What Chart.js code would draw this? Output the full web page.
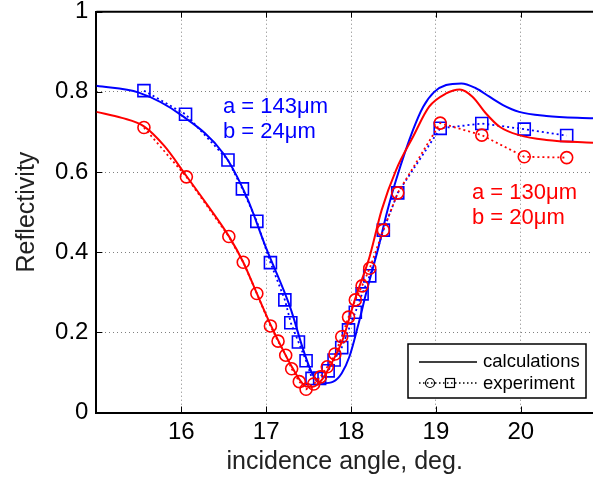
<!DOCTYPE html>
<html>
<head>
<meta charset="utf-8">
<script src="https://cdn.jsdelivr.net/npm/chart.js@4.4.1/dist/chart.umd.min.js"></script>
<style>
  body{margin:0;background:#fff;}
  #wrap{width:593px;height:477px;position:relative;}
</style>
</head>
<body>
<div id="wrap"><canvas id="myChart"></canvas></div>
<script>
// measured values (incidence angle in deg, reflectivity)
var blueExpX=[15.56,16.05,16.55,16.72,16.89,17.05,17.22,17.29,17.38,17.47,17.54,17.63,17.73,17.80,17.89,17.97,18.05,18.13,18.22,18.38,18.55,19.05,19.54,20.04,20.54];
var blueExpY=[0.803,0.744,0.630,0.558,0.477,0.374,0.281,0.224,0.176,0.129,0.085,0.085,0.104,0.131,0.162,0.206,0.250,0.296,0.341,0.455,0.548,0.709,0.721,0.707,0.691];
var redExpX=[15.56,16.06,16.56,16.73,16.89,17.05,17.14,17.23,17.30,17.39,17.47,17.56,17.64,17.72,17.81,17.89,17.97,18.05,18.13,18.22,18.38,18.55,19.05,19.54,20.04,20.54];
var redExpY=[0.711,0.588,0.439,0.375,0.297,0.216,0.178,0.143,0.109,0.077,0.058,0.071,0.089,0.114,0.146,0.189,0.238,0.281,0.316,0.360,0.455,0.548,0.722,0.692,0.638,0.636];

// calculated curves
var blueCalcX=[15.0,15.5,16.0,16.5,16.77,17.0,17.28,17.45,17.55,17.67,17.79,17.89,17.98,18.08,18.18,18.32,18.43,18.53,18.73,18.85,18.98,19.12,19.30,19.47,19.63,19.79,19.98,20.30,20.85];
var blueCalcY=[0.815,0.798,0.742,0.645,0.538,0.41,0.264,0.148,0.094,0.073,0.077,0.098,0.139,0.215,0.30,0.41,0.505,0.58,0.705,0.763,0.800,0.817,0.821,0.809,0.788,0.767,0.750,0.740,0.734];
var redCalcX=[15.0,15.3,15.56,15.8,16.06,16.3,16.56,16.73,16.89,17.05,17.2,17.3,17.4,17.47,17.55,17.65,17.75,17.9,18.05,18.22,18.36,18.53,18.73,18.92,19.12,19.28,19.43,19.59,19.75,19.98,20.30,20.85];
var redCalcY=[0.750,0.735,0.714,0.665,0.590,0.52,0.44,0.375,0.297,0.22,0.155,0.115,0.08,0.065,0.064,0.08,0.115,0.181,0.285,0.39,0.505,0.605,0.688,0.763,0.796,0.806,0.788,0.746,0.713,0.692,0.680,0.673];

var xTicks=[16,17,18,19,20];
var legendNames=['calculations','experiment'];
var notes=[
  {lines:['a = 143μm','b = 24μm'],color:'#0000ff',x:223,y:107},
  {lines:['a = 130μm','b = 20μm'],color:'#ff0000',x:472,y:193}
];

function pts(xs,ys){
  return xs.map(function(x,i){return {x:x,y:ys[i]};});
}

// frame top line + inward ticks + legend box + text notes
var decor={
  id:'decor',
  afterDatasetsDraw:function(chart){
    var c=chart.ctx, a=chart.chartArea, xs=chart.scales.x, ys=chart.scales.y;
    c.save();
    c.strokeStyle='#000';
    c.lineWidth=2;
    c.beginPath();c.moveTo(a.left,a.top);c.lineTo(a.right,a.top);c.stroke();
    c.lineWidth=1;
    xTicks.forEach(function(v){
      var px=Math.round(xs.getPixelForValue(v))+0.5;
      c.beginPath();c.moveTo(px,a.bottom);c.lineTo(px,a.bottom-6);c.stroke();
      c.beginPath();c.moveTo(px,a.top);c.lineTo(px,a.top+6);c.stroke();
    });
    ys.ticks.forEach(function(t){
      var py=Math.round(ys.getPixelForValue(t.value))+0.5;
      c.beginPath();c.moveTo(a.left,py);c.lineTo(a.left+6,py);c.stroke();
    });

    // notes
    c.font='22px "Liberation Sans", Arial, sans-serif';
    c.textBaseline='middle';
    c.textAlign='left';
    notes.forEach(function(n){
      c.fillStyle=n.color;
      n.lines.forEach(function(s,i){c.fillText(s,n.x,n.y+i*25);});
    });

    // legend
    var bx=408,by=344,bw=178,bh=54;
    c.fillStyle='#fff';
    c.fillRect(bx,by,bw,bh);
    c.lineWidth=1.5;
    c.strokeStyle='#000';
    c.strokeRect(bx,by,bw,bh);
    c.beginPath();c.moveTo(419,362);c.lineTo(477,362);c.stroke();
    c.setLineDash([1.5,2.5]);
    c.beginPath();c.moveTo(419,383);c.lineTo(477,383);c.stroke();
    c.setLineDash([]);
    c.lineWidth=1.2;
    c.beginPath();c.arc(430,383,4.5,0,Math.PI*2);c.stroke();
    c.strokeRect(445.5,378.5,9,9);
    c.fillStyle='#000';
    c.font='18.5px "Liberation Sans", Arial, sans-serif';
    c.fillText(legendNames[0],483,362);
    c.fillText(legendNames[1],483,384);
    c.restore();
  }
};

var tickFont={family:'"Liberation Sans", Arial, sans-serif',size:24};
var titleFont={family:'"Liberation Sans", Arial, sans-serif',size:25};

var ctx=document.getElementById('myChart').getContext('2d');
var myChart=new Chart(ctx,{
  type:'scatter',
  data:{
    datasets:[
      {label:'red calc',data:pts(redCalcX,redCalcY),showLine:true,borderColor:'#ff0000',borderWidth:2,pointRadius:0,cubicInterpolationMode:'monotone'},
      {label:'red exp',data:pts(redExpX,redExpY),showLine:true,borderColor:'#ff0000',borderWidth:1.8,borderDash:[2,3],tension:0,
        pointStyle:'circle',pointRadius:6,pointBorderWidth:1.6,pointBorderColor:'#ff0000',pointBackgroundColor:'rgba(0,0,0,0)'},
      {label:'blue calc',data:pts(blueCalcX,blueCalcY),showLine:true,borderColor:'#0000ff',borderWidth:2,pointRadius:0,cubicInterpolationMode:'monotone'},
      {label:'blue exp',data:pts(blueExpX,blueExpY),showLine:true,borderColor:'#0000ff',borderWidth:1.8,borderDash:[2,3],tension:0,
        pointStyle:'rect',pointRadius:8.5,pointBorderWidth:1.6,pointBorderColor:'#0000ff',pointBackgroundColor:'rgba(0,0,0,0)'}
    ]
  },
  options:{
    responsive:true,
    maintainAspectRatio:false,
    animation:false,
    layout:{autoPadding:false,padding:{top:11.7,right:0,left:0,bottom:0}},
    plugins:{legend:{display:false},tooltip:{enabled:false}},
    scales:{
      x:{
        type:'linear',min:15,max:20.85,
        afterBuildTicks:function(s){s.ticks=xTicks.map(function(v){return {value:v};});},
        afterFit:function(s){s.height=64.5;s.paddingLeft=0;s.paddingRight=0;},
        grid:{color:'#808080',lineWidth:1,drawTicks:false},
        border:{display:true,color:'#000',width:2,dash:[1,3]},
        ticks:{font:tickFont,color:'#000',padding:5,maxRotation:0,autoSkip:false},
        title:{display:true,text:'incidence angle, deg.',font:titleFont,color:'#222',padding:{top:0,bottom:0}}
      },
      y:{
        min:0,max:1,
        afterFit:function(s){s.width=96.4;s.paddingTop=0;s.paddingBottom=0;},
        grid:{color:'#808080',lineWidth:1,drawTicks:false},
        border:{display:true,color:'#000',width:2,dash:[1,3]},
        ticks:{stepSize:0.2,font:tickFont,color:'#000',padding:8,
          callback:function(v){return String(Math.round(v*10)/10);}},
        title:{display:true,text:'Reflectivity',font:titleFont,color:'#222',padding:{top:12,bottom:12}}
      }
    }
  },
  plugins:[decor]
});
</script>
</body>
</html>
